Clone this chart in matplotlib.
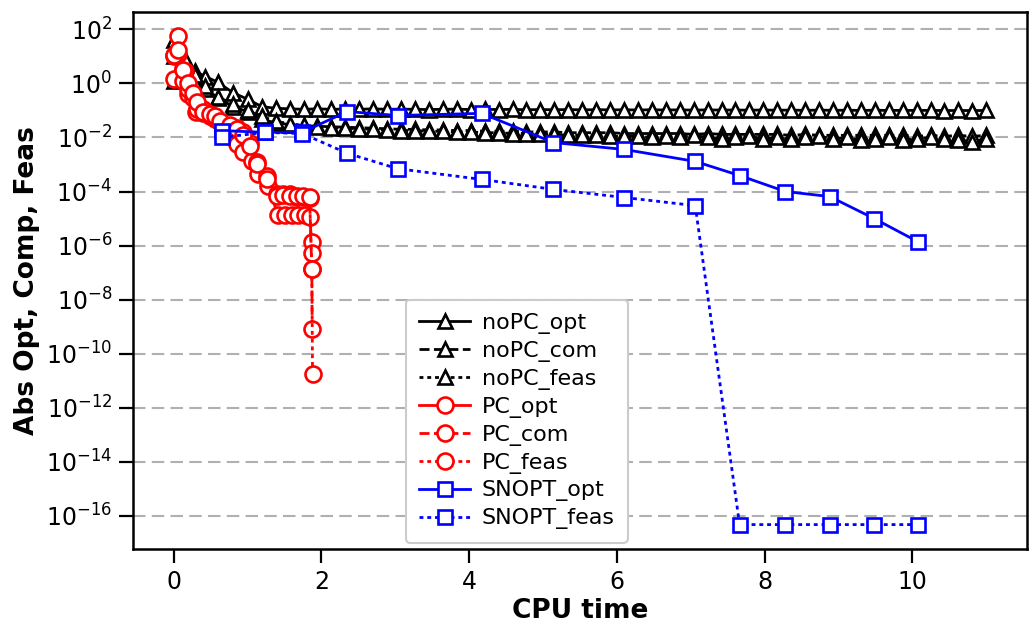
import matplotlib
matplotlib.use("Agg")
import matplotlib.pyplot as plt
import numpy as np

# ---------------- data ----------------
t_nopc = [0.00, 0.15, 0.29, 0.43, 0.60, 0.80, 1.00,
          1.19, 1.38, 1.57, 1.76, 1.94, 2.13, 2.32, 2.51, 2.70, 2.89,
          3.08, 3.27, 3.45, 3.64, 3.83, 4.02, 4.21, 4.40, 4.59, 4.77,
          4.96, 5.15, 5.34, 5.53, 5.72, 5.91, 6.10, 6.28, 6.47, 6.66,
          6.85, 7.04, 7.23, 7.42, 7.60, 7.79, 7.98, 8.17, 8.36, 8.55,
          8.74, 8.93, 9.11, 9.30, 9.49, 9.68, 9.87, 10.06, 10.25, 10.43,
          10.62, 10.81, 11.00]
nopc_opt = [10.0, 4.3, 2.8, 1.8, 1.1, 0.46, 0.26,
            0.14, 0.12, 0.115, 0.11, 0.115, 0.11, 0.112, 0.11, 0.115, 0.11,
            0.112, 0.11, 0.108, 0.11, 0.112, 0.108, 0.11, 0.108, 0.11, 0.106,
            0.108, 0.106, 0.108, 0.105, 0.107, 0.105, 0.106, 0.104, 0.106, 0.104,
            0.105, 0.103, 0.105, 0.103, 0.104, 0.102, 0.104, 0.102, 0.103, 0.101,
            0.103, 0.101, 0.102, 0.100, 0.102, 0.100, 0.101, 0.100, 0.101, 0.099,
            0.100, 0.099, 0.100]
nopc_com = [1.2, 1.5, 1.0, 0.6, 0.3, 0.14, 0.09,
            0.047, 0.035, 0.030, 0.027, 0.026, 0.025, 0.024, 0.023, 0.022, 0.021,
            0.020, 0.020, 0.019, 0.019, 0.018, 0.018, 0.017, 0.017, 0.017, 0.016,
            0.016, 0.016, 0.015, 0.015, 0.015, 0.015, 0.014, 0.014, 0.014, 0.014,
            0.014, 0.013, 0.014, 0.013, 0.013, 0.013, 0.013, 0.013, 0.012, 0.013,
            0.012, 0.012, 0.012, 0.012, 0.012, 0.012, 0.012, 0.011, 0.012, 0.011,
            0.012, 0.011, 0.012]
nopc_feas = [40.0, 8.0, 2.0, 0.8, 0.32, 0.17, 0.10,
             0.060, 0.040, 0.032, 0.028, 0.025, 0.023, 0.022, 0.021, 0.020, 0.019,
             0.018, 0.018, 0.017, 0.017, 0.016, 0.016, 0.015, 0.015, 0.014, 0.014,
             0.013, 0.013, 0.012, 0.012, 0.012, 0.011, 0.011, 0.011, 0.010, 0.011,
             0.010, 0.012, 0.010, 0.009, 0.010, 0.011, 0.009, 0.010, 0.009, 0.010,
             0.011, 0.009, 0.010, 0.008, 0.009, 0.010, 0.008, 0.009, 0.010, 0.009,
             0.008, 0.007, 0.009]

t_pc_opt = [0.00, 0.06, 0.13, 0.20, 0.30, 0.40, 0.49, 0.56, 0.63, 0.76,
            0.86, 0.94, 1.06, 1.14, 1.28, 1.41, 1.51, 1.60, 1.68, 1.78,
            1.84, 1.87, 1.875]
pc_opt = [1.4, 12.0, 1.2, 0.39, 0.091, 0.08, 0.063, 0.05, 0.036, 0.023,
          5.5e-3, 3.0e-3, 1.3e-3, 4.3e-4, 1.55e-4, 1.4e-5, 1.4e-5, 1.4e-5, 1.4e-5, 1.35e-5,
          1.1e-5, 1.3e-6, 5.5e-7]
t_pc_com = [0.00, 0.06, 0.16, 0.20, 0.26, 0.32, 0.40, 0.49, 0.56, 0.63,
            0.76, 0.86, 0.94, 1.03, 1.13, 1.26, 1.40, 1.48, 1.57, 1.67,
            1.75, 1.84, 1.87, 1.875]
pc_com = [10.0, 55.0, 2.8, 0.6, 0.3, 0.11, 0.11, 0.07, 0.055, 0.036,
          0.023, 0.023, 0.0155, 6.5e-3, 1.2e-3, 3.6e-4, 7.8e-5, 7.8e-5, 7.8e-5, 6.5e-5,
          6.5e-5, 6.0e-5, 1.3e-7, 8.0e-10]
t_pc_feas = [0.00, 0.06, 0.13, 0.20, 0.26, 0.32, 0.40, 0.49, 0.56, 0.63,
             0.76, 0.86, 0.94, 1.03, 1.13, 1.26, 1.40, 1.48, 1.57, 1.67,
             1.75, 1.84, 1.87, 1.88]
pc_feas = [11.0, 18.0, 3.2, 1.0, 0.45, 0.2, 0.09, 0.075, 0.06, 0.04,
           0.028, 0.02, 0.012, 5.0e-3, 1.0e-3, 3.0e-4, 7.0e-5, 7.2e-5, 7.0e-5, 6.8e-5,
           6.6e-5, 6.2e-5, 1.3e-7, 1.7e-11]

t_snopt = [0.65, 1.23, 1.74, 2.35, 3.03, 4.17, 5.14, 6.10, 7.06, 7.66,
           8.28, 8.88, 9.48, 10.07]
snopt_opt = [0.018, 0.0155, 0.0155, 0.091, 0.065, 0.078, 0.0065, 0.0036, 0.0013, 3.9e-4,
             1.0e-4, 6.5e-5, 1.0e-5, 1.4e-6]
snopt_feas = [0.010, 0.0154, 0.014, 0.0026, 7.0e-4, 2.8e-4, 1.2e-4, 6.0e-5, 3.0e-5, 4.7e-17,
              4.7e-17, 4.7e-17, 4.7e-17, 4.7e-17]

labels = ["noPC_opt", "noPC_com", "noPC_feas", "PC_opt", "PC_com", "PC_feas",
          "SNOPT_opt", "SNOPT_feas"]
yticks = [1e2, 1e0, 1e-2, 1e-4, 1e-6, 1e-8, 1e-10, 1e-12, 1e-14, 1e-16]
xticks = [0, 2, 4, 6, 8, 10]

# ---------------- plot ----------------
plt.rcParams['font.family'] = ['DejaVu Sans']
fig = plt.figure(figsize=(10.29, 6.24), dpi=100)
ax = fig.add_axes([133/1029, 1 - 549/624, (1027-133)/1029, (549-12)/624])

lw = 2.0
dash = (0, (3.6, 1.6))
dot = (0, (1.4, 1.4))
tri = dict(marker='^', markersize=10.5, markerfacecolor='white', markeredgewidth=1.9,
           color='k', lw=lw)
cir = dict(marker='o', markersize=11.5, markerfacecolor='white', markeredgewidth=1.9,
           color='#ff0000', lw=lw)
sq = dict(marker='s', markersize=10, markerfacecolor='white', markeredgewidth=1.9,
          color='#0000ff', lw=lw)

ax.plot(t_nopc, nopc_opt, linestyle='-', label=labels[0], **tri)
ax.plot(t_nopc, nopc_com, linestyle=dash, label=labels[1], **tri)
ax.plot(t_nopc, nopc_feas, linestyle=dot, label=labels[2], **tri)
ax.plot(t_pc_opt, pc_opt, linestyle='-', label=labels[3], **cir)
ax.plot(t_pc_com, pc_com, linestyle=dash, label=labels[4], **cir)
ax.plot(t_pc_feas, pc_feas, linestyle=dot, label=labels[5], **cir)
ax.plot(t_snopt, snopt_opt, linestyle='-', label=labels[6], **sq)
ax.plot(t_snopt, snopt_feas, linestyle=dot, label=labels[7], **sq)

ax.set_yscale('log')
ax.set_yticks(yticks)
ax.yaxis.set_minor_locator(matplotlib.ticker.NullLocator())
ax.set_xticks(xticks)

ax.set_axisbelow(True)
ax.yaxis.grid(True, color='#b0b0b0', linewidth=1.5, linestyle=(0, (6, 3)))

for s in ax.spines.values():
    s.set_linewidth(1.8)
    s.set_color('black')
ax.tick_params(axis='both', which='major', length=10, width=1.6, labelsize=17,
               direction='out', pad=5)

ax.set_xlabel('CPU time', fontsize=19, fontweight='bold', labelpad=3)
ax.set_ylabel('Abs Opt, Comp, Feas', fontsize=19, fontweight='bold', labelpad=4)

leg = ax.legend(loc='lower left', bbox_to_anchor=(0.293, -0.009), fontsize=16,
                frameon=True, framealpha=1.0, edgecolor='#cccccc',
                handlelength=2.3, labelspacing=0.31, borderpad=0.6, handletextpad=0.5)
leg.get_frame().set_linewidth(1.5)

fig.savefig('out.png', dpi=100)
